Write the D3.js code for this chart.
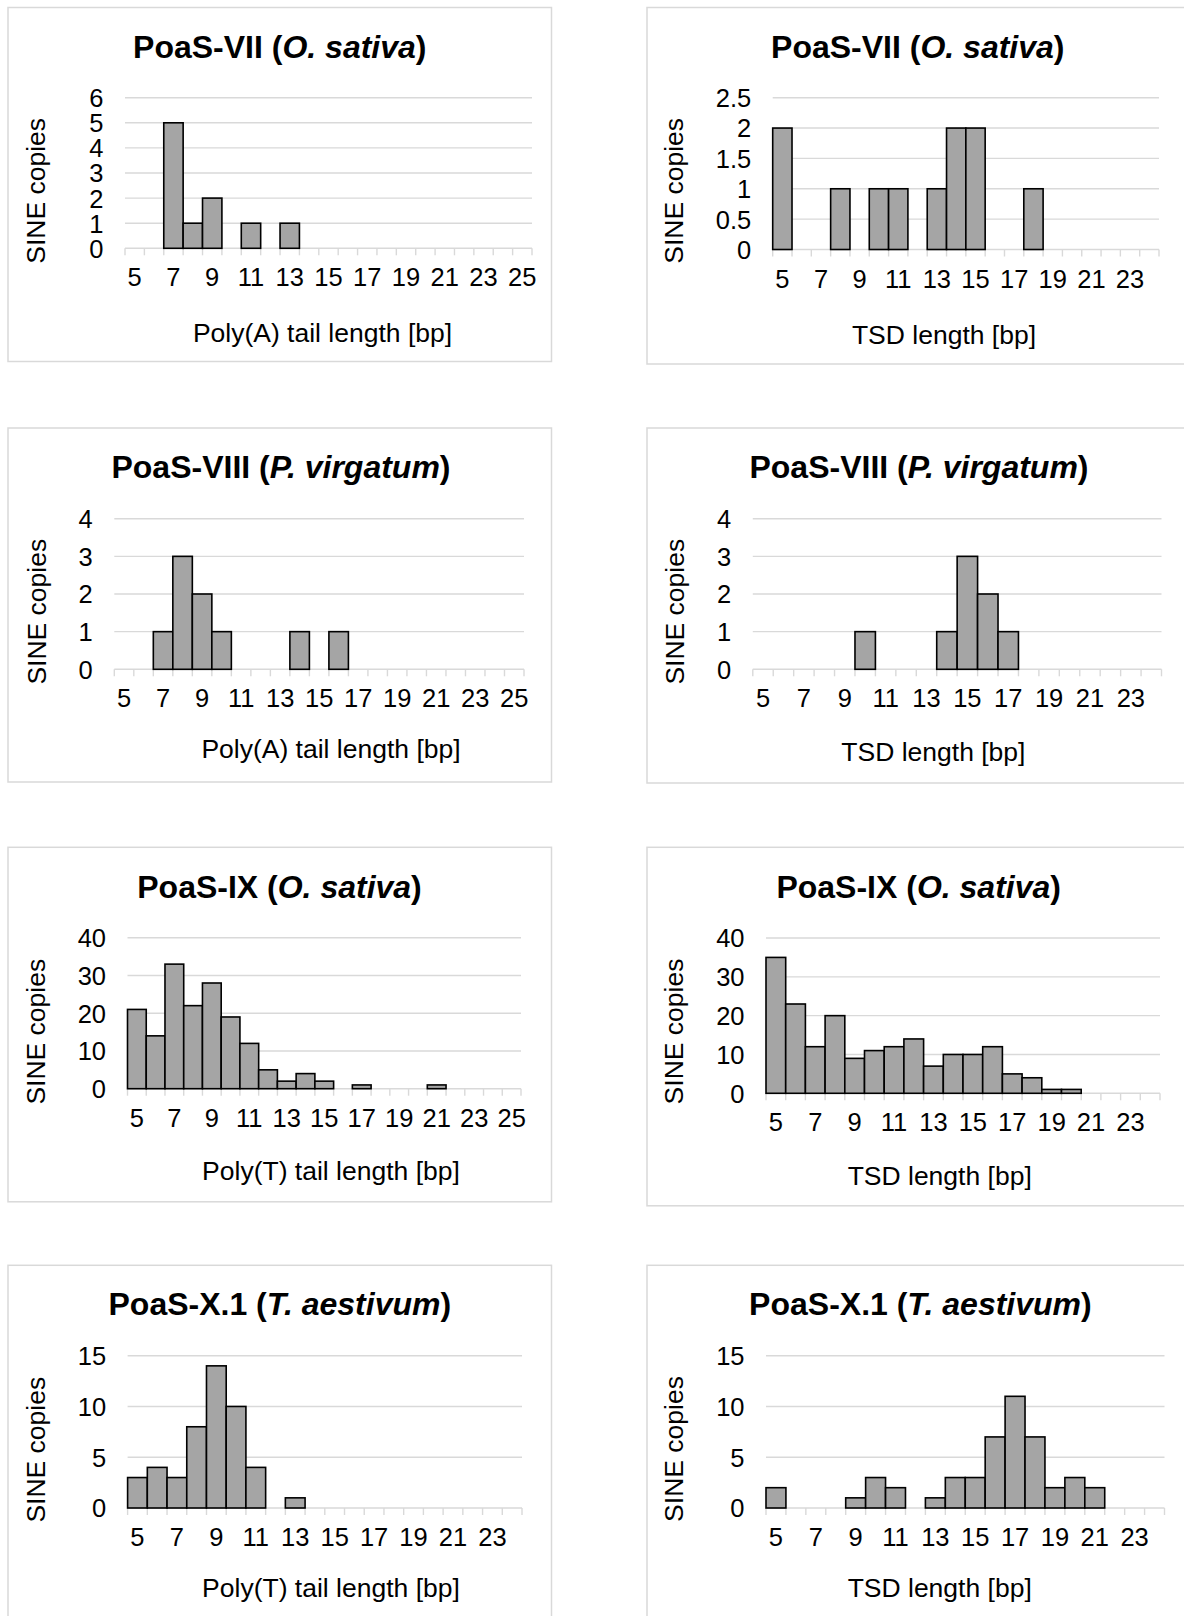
<!DOCTYPE html>
<html>
<head>
<meta charset="utf-8">
<script src="https://cdn.jsdelivr.net/npm/d3@7"></script>
<style>
  body { margin: 0; background: #fff; }
  svg { display: block; font-family: "Liberation Sans", Arial, Helvetica, sans-serif; }
</style>
</head>
<body>
<svg id="fig" width="1184" height="1616"></svg>
<script>
// Length bins (bp)
const binsTo25 = [5, 6, 7, 8, 9, 10, 11, 12, 13, 14, 15, 16, 17, 18, 19, 20, 21, 22, 23, 24, 25];
const binsTo24 = [5, 6, 7, 8, 9, 10, 11, 12, 13, 14, 15, 16, 17, 18, 19, 20, 21, 22, 23, 24];

// Labelled bins on the length axis
const labelsTo25 = [5, 7, 9, 11, 13, 15, 17, 19, 21, 23, 25];
const labelsTo23 = [5, 7, 9, 11, 13, 15, 17, 19, 21, 23];

// SINE copies per length bin
const viiPolyA  = [0, 0, 5, 1, 2, 0, 1, 0, 1, 0, 0, 0, 0, 0, 0, 0, 0, 0, 0, 0, 0];
const viiTsd    = [2, 0, 0, 1, 0, 1, 1, 0, 1, 2, 2, 0, 0, 1, 0, 0, 0, 0, 0, 0];
const viiiPolyA = [0, 0, 1, 3, 2, 1, 0, 0, 0, 1, 0, 1, 0, 0, 0, 0, 0, 0, 0, 0, 0];
const viiiTsd   = [0, 0, 0, 0, 0, 1, 0, 0, 0, 1, 3, 2, 1, 0, 0, 0, 0, 0, 0, 0];
const ixPolyT   = [21, 14, 33, 22, 28, 19, 12, 5, 2, 4, 2, 0, 1, 0, 0, 0, 1, 0, 0, 0, 0];
const ixTsd     = [35, 23, 12, 20, 9, 11, 12, 14, 7, 10, 10, 12, 5, 4, 1, 1, 0, 0, 0, 0];
const x1PolyT   = [3, 4, 3, 8, 14, 10, 4, 0, 1, 0, 0, 0, 0, 0, 0, 0, 0, 0, 0, 0];
const x1Tsd     = [2, 0, 0, 0, 1, 3, 2, 0, 1, 3, 3, 7, 11, 7, 2, 3, 2, 0, 0, 0];

// Count-axis ticks
const ticksTo6   = [0, 1, 2, 3, 4, 5, 6];
const ticksTo2_5 = [0, 0.5, 1, 1.5, 2, 2.5];
const ticksTo4   = [0, 1, 2, 3, 4];
const ticksTo40  = [0, 10, 20, 30, 40];
const ticksTo15  = [0, 5, 10, 15];

// Panel texts
const families = ["PoaS-VII", "PoaS-VII", "PoaS-VIII", "PoaS-VIII", "PoaS-IX", "PoaS-IX", "PoaS-X.1", "PoaS-X.1"];
const species  = ["O. sativa", "O. sativa", "P. virgatum", "P. virgatum", "O. sativa", "O. sativa", "T. aestivum", "T. aestivum"];
const xTitles  = ["Poly(A) tail length [bp]", "TSD length [bp]", "Poly(A) tail length [bp]", "TSD length [bp]",
                  "Poly(T) tail length [bp]", "TSD length [bp]", "Poly(T) tail length [bp]", "TSD length [bp]"];
const yTitle = "SINE copies";

const panelData = [
  { bins: binsTo25, values: viiPolyA,  yTicks: ticksTo6,   xLabels: labelsTo25 },
  { bins: binsTo24, values: viiTsd,    yTicks: ticksTo2_5, xLabels: labelsTo23 },
  { bins: binsTo25, values: viiiPolyA, yTicks: ticksTo4,   xLabels: labelsTo25 },
  { bins: binsTo24, values: viiiTsd,   yTicks: ticksTo4,   xLabels: labelsTo23 },
  { bins: binsTo25, values: ixPolyT,   yTicks: ticksTo40,  xLabels: labelsTo25 },
  { bins: binsTo24, values: ixTsd,     yTicks: ticksTo40,  xLabels: labelsTo23 },
  { bins: binsTo24, values: x1PolyT,   yTicks: ticksTo15,  xLabels: labelsTo23 },
  { bins: binsTo24, values: x1Tsd,     yTicks: ticksTo15,  xLabels: labelsTo23 }
];

// Frame and plot geometry of each panel
const layout = [
  { box: [8, 7.5, 543.5, 354],    plot: [125, 532, 97.7, 248.3],      title: [279.8, 58.3],  yt: [35.8, 190.8],  xt: [322.5, 342] },
  { box: [647, 7.5, 543, 356.5],  plot: [772.7, 1159, 97.7, 249.5],   title: [917.8, 58.3],  yt: [673.5, 190.8], xt: [944, 344] },
  { box: [8, 428, 543.5, 354],    plot: [114.3, 524, 518.7, 669.3],   title: [281, 477.8],   yt: [36.6, 611.7],  xt: [331, 758] },
  { box: [647, 428, 543, 355],    plot: [752.8, 1161.5, 518.7, 669.3],title: [919, 477.8],   yt: [674.7, 611.7], xt: [933.4, 761] },
  { box: [8, 847.3, 543.5, 354.5],plot: [127.5, 521, 937.7, 1088.7],  title: [279.5, 897.5], yt: [35.7, 1031.7], xt: [331, 1180] },
  { box: [647, 847.3, 543, 358.5],plot: [766, 1160, 938, 1093.3],     title: [918.7, 897.5], yt: [673.5, 1031.5],xt: [939.7, 1185] },
  { box: [8, 1265.3, 543.5, 354], plot: [127.6, 522, 1355.7, 1508],   title: [279.8, 1315],  yt: [35.7, 1449.7], xt: [331, 1597] },
  { box: [647, 1265.3, 543, 357], plot: [766, 1164.5, 1355.7, 1508],  title: [920.4, 1315],  yt: [673.5, 1449],  xt: [939.7, 1597] }
];

const GRID = "#d9d9d9";
const BAR_FILL = "#a5a5a5";
const TICK_FONT = 25.5;
const AXIS_TITLE_FONT = 26.5;
const TITLE_FONT = 32;

const svg = d3.select("#fig");
svg.append("rect").attr("width", 1184).attr("height", 1616).attr("fill", "#fff");

panelData.forEach((d, i) => {
  const L = layout[i];
  const [left, right, top, bottom] = L.plot;
  const g = svg.append("g").attr("class", "panel");

  // chart frame
  g.append("rect")
    .attr("x", L.box[0]).attr("y", L.box[1])
    .attr("width", L.box[2]).attr("height", L.box[3])
    .attr("fill", "#fff").attr("stroke", GRID).attr("stroke-width", 1.5);

  const x = d3.scaleBand().domain(d.bins).range([left, right]).padding(0);
  const y = d3.scaleLinear().domain([0, d3.max(d.yTicks)]).range([bottom, top]);

  // horizontal gridlines (the zero line doubles as the category axis)
  g.append("g").selectAll("line").data(d.yTicks).join("line")
    .attr("x1", left).attr("x2", right)
    .attr("y1", v => y(v)).attr("y2", v => y(v))
    .attr("stroke", GRID).attr("stroke-width", 1.4);

  // tick marks on bin boundaries
  const edges = d.bins.map(b => x(b)).concat([x.range()[1]]);
  g.append("g").selectAll("line").data(edges).join("line")
    .attr("x1", e => e).attr("x2", e => e)
    .attr("y1", y(0)).attr("y2", y(0) + 7)
    .attr("stroke", GRID).attr("stroke-width", 1.4);

  // histogram bars
  const rows = d.bins.map((b, k) => ({ bin: b, n: d.values[k] })).filter(r => r.n > 0);
  g.append("g").selectAll("rect").data(rows).join("rect")
    .attr("x", r => x(r.bin)).attr("width", x.bandwidth())
    .attr("y", r => y(r.n)).attr("height", r => y(0) - y(r.n))
    .attr("fill", BAR_FILL).attr("stroke", "#000").attr("stroke-width", 1.6);

  // count axis labels
  const yAxis = g.append("g").attr("transform", `translate(${left},0)`)
    .call(d3.axisLeft(y).tickValues(d.yTicks).tickSize(0).tickPadding(21.5).tickFormat(v => String(v)));
  yAxis.select(".domain").remove();
  yAxis.attr("font-family", null).attr("font-size", null);
  yAxis.selectAll("text").attr("font-size", TICK_FONT).attr("fill", "#000").attr("dy", "0.35em");

  // length axis labels
  const xAxis = g.append("g").attr("transform", `translate(0,${y(0)})`)
    .call(d3.axisBottom(x).tickValues(d.xLabels).tickSize(0));
  xAxis.select(".domain").remove();
  xAxis.attr("font-family", null).attr("font-size", null);
  xAxis.selectAll("text").attr("font-size", TICK_FONT).attr("fill", "#000")
    .attr("y", 38).attr("dy", null);

  // panel title
  const t = g.append("text")
    .attr("x", L.title[0]).attr("y", L.title[1])
    .attr("text-anchor", "middle").attr("font-size", TITLE_FONT).attr("font-weight", "bold").attr("fill", "#000");
  t.append("tspan").text(families[i] + " (");
  t.append("tspan").attr("font-style", "italic").text(species[i]);
  t.append("tspan").text(")");

  // axis titles
  g.append("text")
    .attr("x", L.xt[0]).attr("y", L.xt[1])
    .attr("text-anchor", "middle").attr("font-size", AXIS_TITLE_FONT).attr("fill", "#000")
    .text(xTitles[i]);

  g.append("text")
    .attr("transform", `translate(${L.yt[0]},${L.yt[1]}) rotate(-90)`)
    .attr("text-anchor", "middle").attr("dy", "0.35em")
    .attr("font-size", AXIS_TITLE_FONT).attr("fill", "#000")
    .text(yTitle);
});
</script>
</body>
</html>
